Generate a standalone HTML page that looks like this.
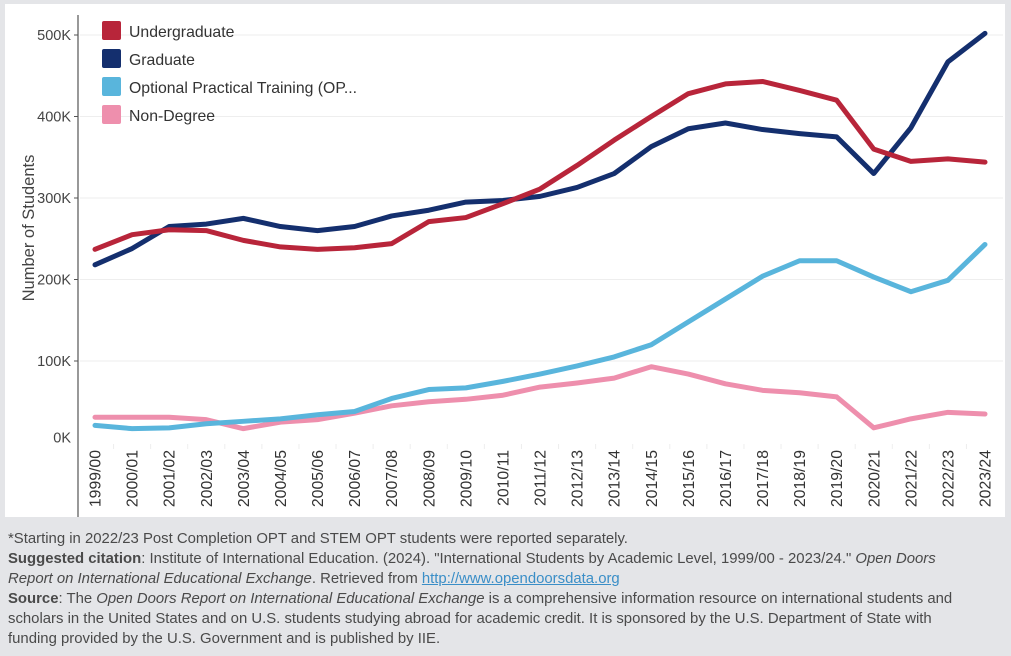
<!DOCTYPE html>
<html><head><meta charset="utf-8"><style>
body{margin:0;width:1011px;height:656px;background:#e4e5e8;font-family:"Liberation Sans",sans-serif;overflow:hidden;position:relative}
#panel{position:absolute;left:5px;top:4px;width:1000px;height:513px;background:#fff}
#foot{position:absolute;left:8px;top:529px;width:972px;font-size:14.9px;line-height:20px;color:#4a4a4a}
#foot a{color:#3a8ec7;text-decoration:underline}
</style></head><body>
<div id="panel"></div>
<svg id="chart" width="1011" height="520" style="position:absolute;left:0;top:0"></svg>
<div id="foot">
<div>*Starting in 2022/23 Post Completion OPT and STEM OPT students were reported separately.</div>
<div><b>Suggested citation</b>: Institute of International Education. (2024). "International Students by Academic Level, 1999/00 - 2023/24." <i>Open Doors Report on International Educational Exchange</i>. Retrieved from <a>http://www.opendoorsdata.org</a></div>
<div><b>Source</b>: The <i>Open Doors Report on International Educational Exchange</i> is a comprehensive information resource on international students and scholars in the United States and on U.S. students studying abroad for academic credit. It is sponsored by the U.S. Department of State with funding provided by the U.S. Government and is published by IIE.</div>
</div>
<script>
const categories=["1999/00","2000/01","2001/02","2002/03","2003/04","2004/05","2005/06","2006/07","2007/08","2008/09","2009/10","2010/11","2011/12","2012/13","2013/14","2014/15","2015/16","2016/17","2017/18","2018/19","2019/20","2020/21","2021/22","2022/23","2023/24"];
const undergrad=[237,255,261,260,248,240,237,239,244,271,276,293,311,340,371,400,428,440,443,432,420,360,345,348,344];
const graduate=[218,238,265,268,275,265,260,265,278,285,295,297,302,313,330,363,385,392,384,379,375,330,386,467,502];
const opt=[21,17,18,23,26,29,34,38,54,65,67,75,84,94,105,120,148,176,204,223,223,203,185,199,243];
const nonDegree=[31,31,31,28,17,25,28,36,45,50,53,58,68,73,79,93,84,72,64,61,56,18,29,37,35];
const yTicks=[0,100,200,300,400,500];
const yTickLabels=["0K","100K","200K","300K","400K","500K"];
const seriesNames=["Undergraduate","Graduate","Optional Practical Training (OP...","Non-Degree"];
const seriesColors=["#b8253a","#142f6e","#59b5dc","#ee8fad"];
const svg=document.getElementById('chart');
const NS="http://www.w3.org/2000/svg";
const x=i=>95+i*(985-95)/(categories.length-1);
const y=v=>442.5-v*0.815;
function mk(t,a){const e=document.createElementNS(NS,t);for(const k in a)e.setAttribute(k,a[k]);svg.appendChild(e);return e;}
yTicks.forEach((t,i)=>{
  if(t>0){const g=mk('line',{x1:80,x2:1003,y1:y(t),y2:y(t),stroke:'#eeeeee','stroke-width':1});
  
  
  mk('line',{x1:74,x2:78,y1:y(t),y2:y(t),stroke:'#555'});}
  const l=mk('text',{x:71,y:(t===0?y(t)-5:y(t))+5,'text-anchor':'end','font-size':14.5,fill:'#444'});
  l.textContent=yTickLabels[i];
  
  
});
const ax=mk('line',{x1:78,x2:78,y1:15,y2:517,stroke:'#555','stroke-width':1.2});


const yt=mk('text',{x:0,y:0,transform:'translate(34,228) rotate(-90)','text-anchor':'middle','font-size':16.5,fill:'#444'});
yt.textContent='Number of Students';


categories.forEach((c,i)=>{
  const t=mk('text',{x:0,y:0,transform:`translate(${x(i)+5.5},${450}) rotate(-90)`,'text-anchor':'end','font-size':15.8,fill:'#333'});
  t.textContent=c;
  
  
  if(i>0){mk('line',{x1:(x(i)+x(i-1))/2,x2:(x(i)+x(i-1))/2,y1:444,y2:449,stroke:'#eee'});}
});
[undergrad,graduate,opt,nonDegree].reverse().forEach((d,ri)=>{
  const k=3-ri;
  const p=mk('path',{d:d.map((v,i)=>(i?'L':'M')+x(i)+','+y(v)).join(''),fill:'none',stroke:seriesColors[k],'stroke-width':5,'stroke-linejoin':'round','stroke-linecap':'round'});
  
  
});
seriesNames.forEach((n,i)=>{
  const r=mk('rect',{x:102,y:21+i*28,width:19,height:19,rx:2,fill:seriesColors[i]});
  
  
  const t=mk('text',{x:129,y:37+i*28,'font-size':15.8,fill:'#333'});
  t.textContent=n;
  
  
});
</script>
</body></html>
